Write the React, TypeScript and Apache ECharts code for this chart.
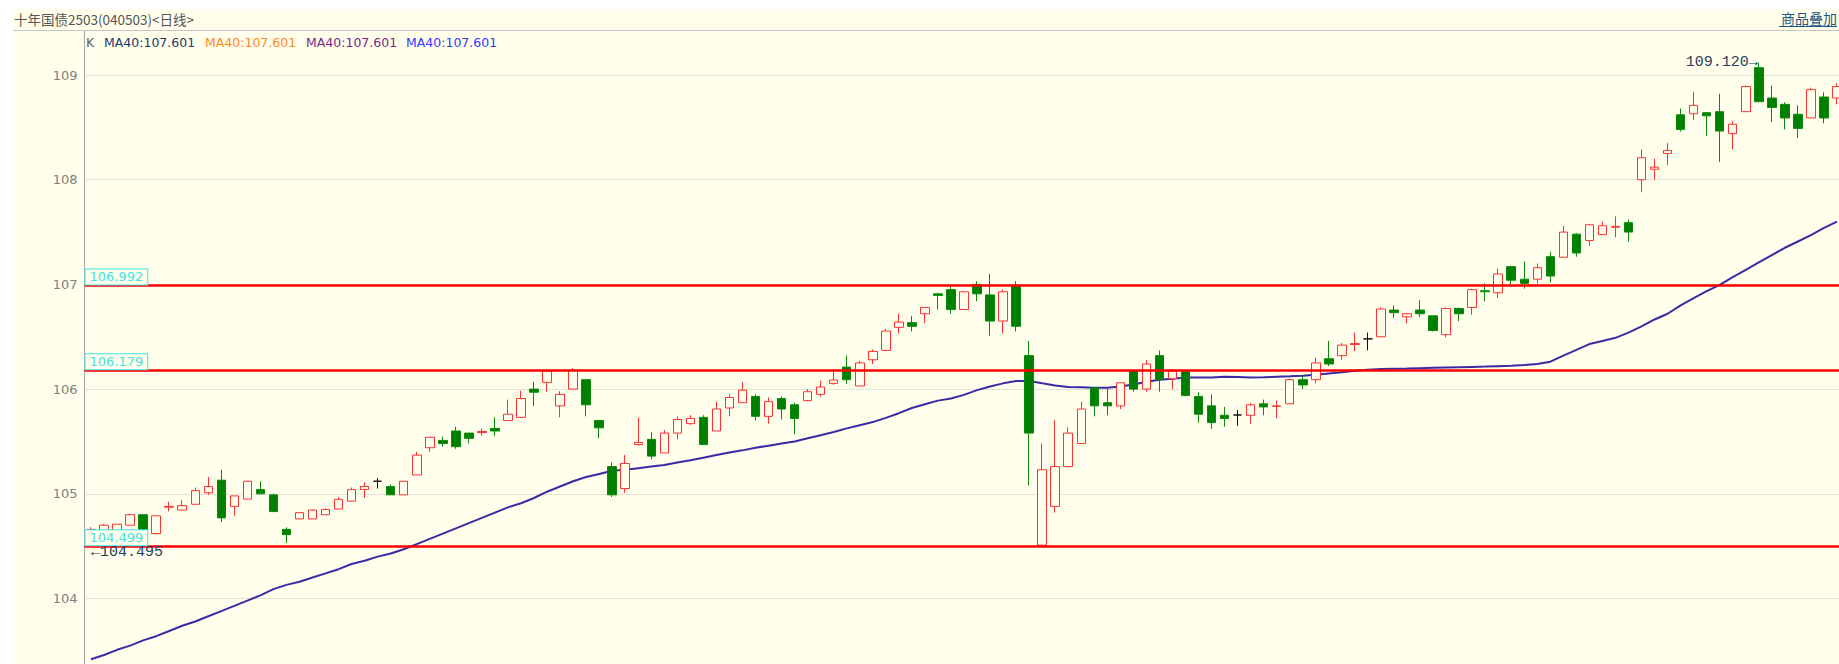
import React, { useEffect, useRef } from 'react';
import * as echarts from 'echarts';

// ---- data ----
const opens = [
  104.56, 104.60, 104.60, 104.70, 104.80, 104.62, 104.872, 104.845, 104.90, 105.01,
  105.13, 104.88, 104.95, 105.04, 104.99, 104.66, 104.76, 104.76, 104.80, 104.855,
  104.93, 105.04, 105.12, 105.07, 104.99, 105.18, 105.44, 105.51, 105.60, 105.58,
  105.585, 105.625, 105.70, 105.73, 106.00, 106.065, 105.84, 106.00, 106.09, 105.70,
  105.26, 105.05, 105.47, 105.52, 105.39, 105.58, 105.67, 105.73, 105.60, 105.82,
  105.87, 105.93, 105.74, 105.91, 105.85, 105.89, 105.95, 106.055, 106.21, 106.03,
  106.28, 106.37, 106.59, 106.635, 106.72, 106.91, 106.95, 106.76, 107.00, 106.90,
  106.65, 106.98, 106.32, 104.51, 104.88, 105.26, 105.48, 106.01, 105.87, 105.84,
  106.17, 106.00, 106.32, 106.10, 106.17, 105.93, 105.84, 105.75, 105.753, 105.75,
  105.86, 105.835, 105.86, 106.09, 106.09, 106.29, 106.32, 106.425, 106.48, 106.50,
  106.755, 106.69, 106.755, 106.70, 106.52, 106.77, 106.78, 106.94, 106.92, 107.17,
  107.05, 107.05, 107.265, 107.26, 107.48, 107.42, 107.475, 107.545, 107.59, 108.00,
  108.10, 108.25, 108.62, 108.63, 108.64, 108.65, 108.44, 108.65, 109.07, 108.78,
  108.72, 108.625, 108.59, 108.79, 108.78,
];
const closes = [
  104.66, 104.70, 104.71, 104.80, 104.62, 104.79, 104.88, 104.887, 105.03, 105.07,
  104.77, 104.98, 105.12, 105.00, 104.83, 104.61, 104.82, 104.845, 104.85, 104.947,
  105.04, 105.07, 105.12, 104.99, 105.12, 105.37, 105.54, 105.48, 105.45, 105.53,
  105.595, 105.60, 105.76, 105.91, 105.97, 106.17, 105.95, 106.18, 105.85, 105.63,
  104.99, 105.29, 105.49, 105.36, 105.58, 105.71, 105.72, 105.47, 105.81, 105.92,
  105.99, 105.74, 105.88, 105.81, 105.72, 105.975, 106.02, 106.087, 106.09, 106.25,
  106.36, 106.555, 106.64, 106.60, 106.78, 106.895, 106.76, 106.93, 106.91, 106.65,
  106.93, 106.60, 105.58, 105.23, 105.26, 105.58, 105.81, 105.84, 105.84, 106.06,
  106.00, 106.24, 106.09, 106.17, 105.94, 105.76, 105.68, 105.72, 105.753, 105.85,
  105.83, 105.84, 106.09, 106.04, 106.25, 106.24, 106.42, 106.435, 106.48, 106.765,
  106.73, 106.72, 106.72, 106.56, 106.77, 106.72, 106.95, 106.93, 107.10, 107.04,
  107.01, 107.16, 107.08, 107.50, 107.30, 107.57, 107.56, 107.555, 107.50, 108.21,
  108.12, 108.28, 108.48, 108.71, 108.61, 108.465, 108.53, 108.89, 108.745, 108.69,
  108.59, 108.49, 108.86, 108.59, 108.89,
];
const lows = [
  104.495, 104.58, 104.58, 104.70, 104.60, 104.61, 104.83, 104.84, 104.90, 104.99,
  104.73, 104.79, 104.95, 105.00, 104.83, 104.53, 104.76, 104.76, 104.80, 104.855,
  104.93, 104.96, 105.05, 104.99, 104.99, 105.18, 105.40, 105.45, 105.43, 105.48,
  105.555, 105.55, 105.70, 105.73, 105.84, 105.975, 105.73, 106.00, 105.74, 105.53,
  104.97, 105.01, 105.46, 105.33, 105.39, 105.52, 105.66, 105.47, 105.60, 105.74,
  105.87, 105.70, 105.67, 105.71, 105.57, 105.885, 105.93, 106.04, 106.05, 106.03,
  106.24, 106.37, 106.53, 106.55, 106.63, 106.76, 106.72, 106.76, 106.84, 106.51,
  106.53, 106.55, 105.08, 104.50, 104.82, 105.25, 105.48, 105.74, 105.75, 105.81,
  105.975, 105.975, 105.975, 106.00, 105.93, 105.68, 105.62, 105.64, 105.65, 105.67,
  105.75, 105.72, 105.86, 106.00, 106.055, 106.22, 106.28, 106.36, 106.37, 106.50,
  106.68, 106.63, 106.69, 106.55, 106.495, 106.65, 106.71, 106.84, 106.87, 107.00,
  106.96, 107.01, 107.02, 107.26, 107.265, 107.37, 107.475, 107.45, 107.41, 107.88,
  108.00, 108.14, 108.46, 108.57, 108.42, 108.17, 108.29, 108.65, 108.745, 108.55,
  108.48, 108.40, 108.59, 108.54, 108.72,
];
const highs = [
  104.68, 104.71, 104.71, 104.81, 104.80, 104.79, 104.925, 104.94, 105.06, 105.16,
  105.23, 104.98, 105.12, 105.12, 105.00, 104.68, 104.82, 104.85, 104.86, 104.966,
  105.06, 105.11, 105.15, 105.09, 105.12, 105.40, 105.54, 105.545, 105.64, 105.58,
  105.626, 105.73, 105.90, 105.985, 106.07, 106.17, 105.98, 106.20, 106.09, 105.70,
  105.30, 105.37, 105.73, 105.59, 105.61, 105.74, 105.75, 105.75, 105.88, 105.95,
  106.07, 105.95, 105.92, 105.93, 105.87, 106.00, 106.08, 106.19, 106.32, 106.27,
  106.38, 106.575, 106.72, 106.70, 106.78, 106.92, 107.00, 106.93, 107.03, 107.10,
  106.95, 107.03, 106.46, 105.48, 105.705, 105.635, 105.88, 106.02, 106.01, 106.06,
  106.17, 106.28, 106.37, 106.19, 106.17, 105.97, 105.95, 105.83, 105.80, 105.87,
  105.90, 105.89, 106.10, 106.135, 106.30, 106.46, 106.44, 106.54, 106.54, 106.78,
  106.80, 106.73, 106.85, 106.70, 106.78, 106.78, 106.96, 107.01, 107.15, 107.17,
  107.22, 107.20, 107.31, 107.56, 107.49, 107.58, 107.60, 107.65, 107.62, 108.29,
  108.20, 108.35, 108.68, 108.84, 108.645, 108.82, 108.56, 108.90, 109.12, 108.90,
  108.74, 108.71, 108.88, 108.835, 108.92,
];
const ma40 = [
  103.42, 103.46, 103.51, 103.55, 103.60, 103.64, 103.69, 103.74, 103.78, 103.83,
  103.88, 103.93, 103.98, 104.03, 104.09, 104.13, 104.16, 104.20, 104.24, 104.28,
  104.33, 104.36, 104.40, 104.43, 104.47, 104.52, 104.57, 104.62, 104.67, 104.72,
  104.77, 104.82, 104.87, 104.91, 104.96, 105.02, 105.07, 105.12, 105.16, 105.19,
  105.22, 105.23, 105.245, 105.26, 105.275, 105.30, 105.32, 105.345, 105.37, 105.395,
  105.415, 105.44, 105.46, 105.48, 105.50, 105.53, 105.56, 105.59, 105.625, 105.655,
  105.685, 105.725, 105.77, 105.82, 105.855, 105.89, 105.91, 105.945, 105.99, 106.025,
  106.055, 106.077, 106.078, 106.055, 106.035, 106.02, 106.017, 106.013, 106.013, 106.025,
  106.045, 106.07, 106.09, 106.10, 106.11, 106.112, 106.112, 106.117, 106.115, 106.112,
  106.113, 106.118, 106.122, 106.127, 106.137, 106.15, 106.162, 106.175, 106.185, 106.192,
  106.195, 106.197, 106.20, 106.203, 106.206, 106.209, 106.212, 106.215, 106.219, 106.223,
  106.23, 106.24, 106.262, 106.32, 106.375, 106.43, 106.46, 106.49, 106.54, 106.60,
  106.665, 106.72, 106.80, 106.87, 106.935, 106.995, 107.07, 107.14, 107.21, 107.28,
  107.35, 107.41, 107.47, 107.54, 107.60,
];
const categories = opens.map((_, i) => `D${i + 1}`);
const levelLines = ['106.992', '106.179', '104.499'];
const highIndex = 128;
const highValue = '109.120';
const lowIndex = 0;
const lowValue = '104.495';
const yTicks = { min: 103, max: 109.43, interval: 1 };
const titleText = '十年国债2503(040503)<日线>';
const maLegend = [
  { label: 'MA40:107.601', color: '#22386a' },
  { label: 'MA40:107.601', color: '#ff8a1f' },
  { label: 'MA40:107.601', color: '#7c1f86' },
  { label: 'MA40:107.601', color: '#3737ff' },
];
const overlayText = '商品叠加';

const BG = '#ffffec';

export default function App() {
  const ref = useRef<HTMLDivElement | null>(null);

  useEffect(() => {
    document.body.style.margin = '0';
    if (!ref.current) return;
    const chart = echarts.init(ref.current, null, { renderer: 'svg' });
    const candleData = opens.map((o, i) => [o, closes[i], lows[i], highs[i]]);
    const legendX = [104, 205, 306, 406];

    const option: any = {
      animation: false,
      backgroundColor: BG,
      grid: {
        left: 84.5,
        top: 30,
        width: 1759,
        height: 673.2,
        containLabel: false,
        outerBoundsMode: 'none',
      },
      xAxis: {
        type: 'category',
        data: categories,
        boundaryGap: true,
        axisLine: { show: false },
        axisTick: { show: false },
        axisLabel: { show: false },
        splitLine: { show: false },
      },
      yAxis: {
        type: 'value',
        min: yTicks.min,
        max: yTicks.max,
        interval: yTicks.interval,
        axisLine: { show: true, lineStyle: { color: '#a8a8a8', width: 1 } },
        axisTick: { show: false },
        axisLabel: {
          color: '#808080',
          fontSize: 13,
          fontFamily: 'DejaVu Sans',
          margin: 7,
          showMaxLabel: false,
          showMinLabel: false,
          formatter: (v: number) => (Number.isInteger(v) && v > yTicks.min ? String(v) : ''),
        },
        splitLine: { show: true, lineStyle: { color: '#c4c4c4', type: 'dotted', width: 1 } },
      },
      series: [
        {
          type: 'candlestick',
          data: candleData,
          barWidth: 9,
          itemStyle: {
            color: BG,
            color0: '#008000',
            borderColor: '#ff3030',
            borderColor0: '#0a8a0a',
            borderColorDoji: '#111111',
            borderWidth: 1,
          },
          markLine: {
            silent: true,
            symbol: ['none', 'none'],
            lineStyle: { color: '#ff0000', width: 2.5, type: 'solid' },
            label: {
              show: true,
              position: 'insideStartTop',
              distance: 1,
              color: '#3ee6e6',
              fontSize: 13,
              fontFamily: 'DejaVu Sans',
              backgroundColor: BG,
              borderColor: '#3ee6e6',
              borderWidth: 1,
              padding: [1, 4, 1, 4],
            },
            data: levelLines.map((v) => ({ yAxis: Number(v), label: { formatter: v } })),
          },
          markPoint: {
            silent: true,
            symbol: 'rect',
            symbolSize: 0.1,
            itemStyle: { color: 'rgba(0,0,0,0)' },
            label: { show: true, color: '#2b3d5c', fontFamily: 'Liberation Mono', fontSize: 15 },
            data: [
              {
                coord: [categories[highIndex], Number(highValue)],
                label: { position: 'left', distance: 1, formatter: `${highValue}→` },
              },
              {
                coord: [categories[lowIndex], Number(lowValue)],
                label: { position: 'right', distance: 0, offset: [0, 6], formatter: `←${lowValue}` },
              },
            ],
          },
        },
        {
          type: 'line',
          data: ma40,
          symbol: 'none',
          smooth: false,
          z: 1,
          lineStyle: { color: '#3a2aa6', width: 2 },
        },
      ],
      graphic: [
        { type: 'rect', z: 100, shape: { x: 0, y: 0, width: 13, height: 664 }, style: { fill: '#ffffff' } },
        { type: 'rect', z: 100, shape: { x: 0, y: 0, width: 1839, height: 9 }, style: { fill: '#ffffff' } },
        { type: 'rect', z: 100, shape: { x: 13, y: 9, width: 1826, height: 21 }, style: { fill: BG } },
        { type: 'line', z: 101, shape: { x1: 13, y1: 30.5, x2: 1839, y2: 30.5 }, style: { stroke: '#c6c6c6', lineWidth: 1 } },
        {
          type: 'text', z: 101, x: 14, y: 19,
          style: { text: titleText, fill: '#555555', fontSize: 13.5, fontFamily: '"Noto Sans CJK SC"', verticalAlign: 'middle', align: 'left' },
        },
        {
          type: 'text', z: 101, x: 1837, y: 18,
          style: { text: overlayText, fill: '#1f5a85', fontSize: 14, fontFamily: '"Noto Sans CJK SC"', verticalAlign: 'middle', align: 'right' },
        },
        { type: 'line', z: 101, shape: { x1: 1779, y1: 26.5, x2: 1837, y2: 26.5 }, style: { stroke: '#1f5a85', lineWidth: 1 } },
        {
          type: 'text', z: 101, x: 86, y: 42,
          style: { text: 'K', fill: '#606060', fontSize: 12.5, fontFamily: 'DejaVu Sans', verticalAlign: 'middle', align: 'left' },
        },
        ...maLegend.map((m, i) => ({
          type: 'text', z: 101, x: legendX[i], y: 42,
          style: { text: m.label, fill: m.color, fontSize: 12.5, fontFamily: 'DejaVu Sans', verticalAlign: 'middle', align: 'left' },
        })),
      ],
    };
    chart.setOption(option);
    return () => chart.dispose();
  }, []);

  return <div ref={ref} style={{ position: 'fixed', left: 0, top: 0, width: 1839, height: 664 }} />;
}
